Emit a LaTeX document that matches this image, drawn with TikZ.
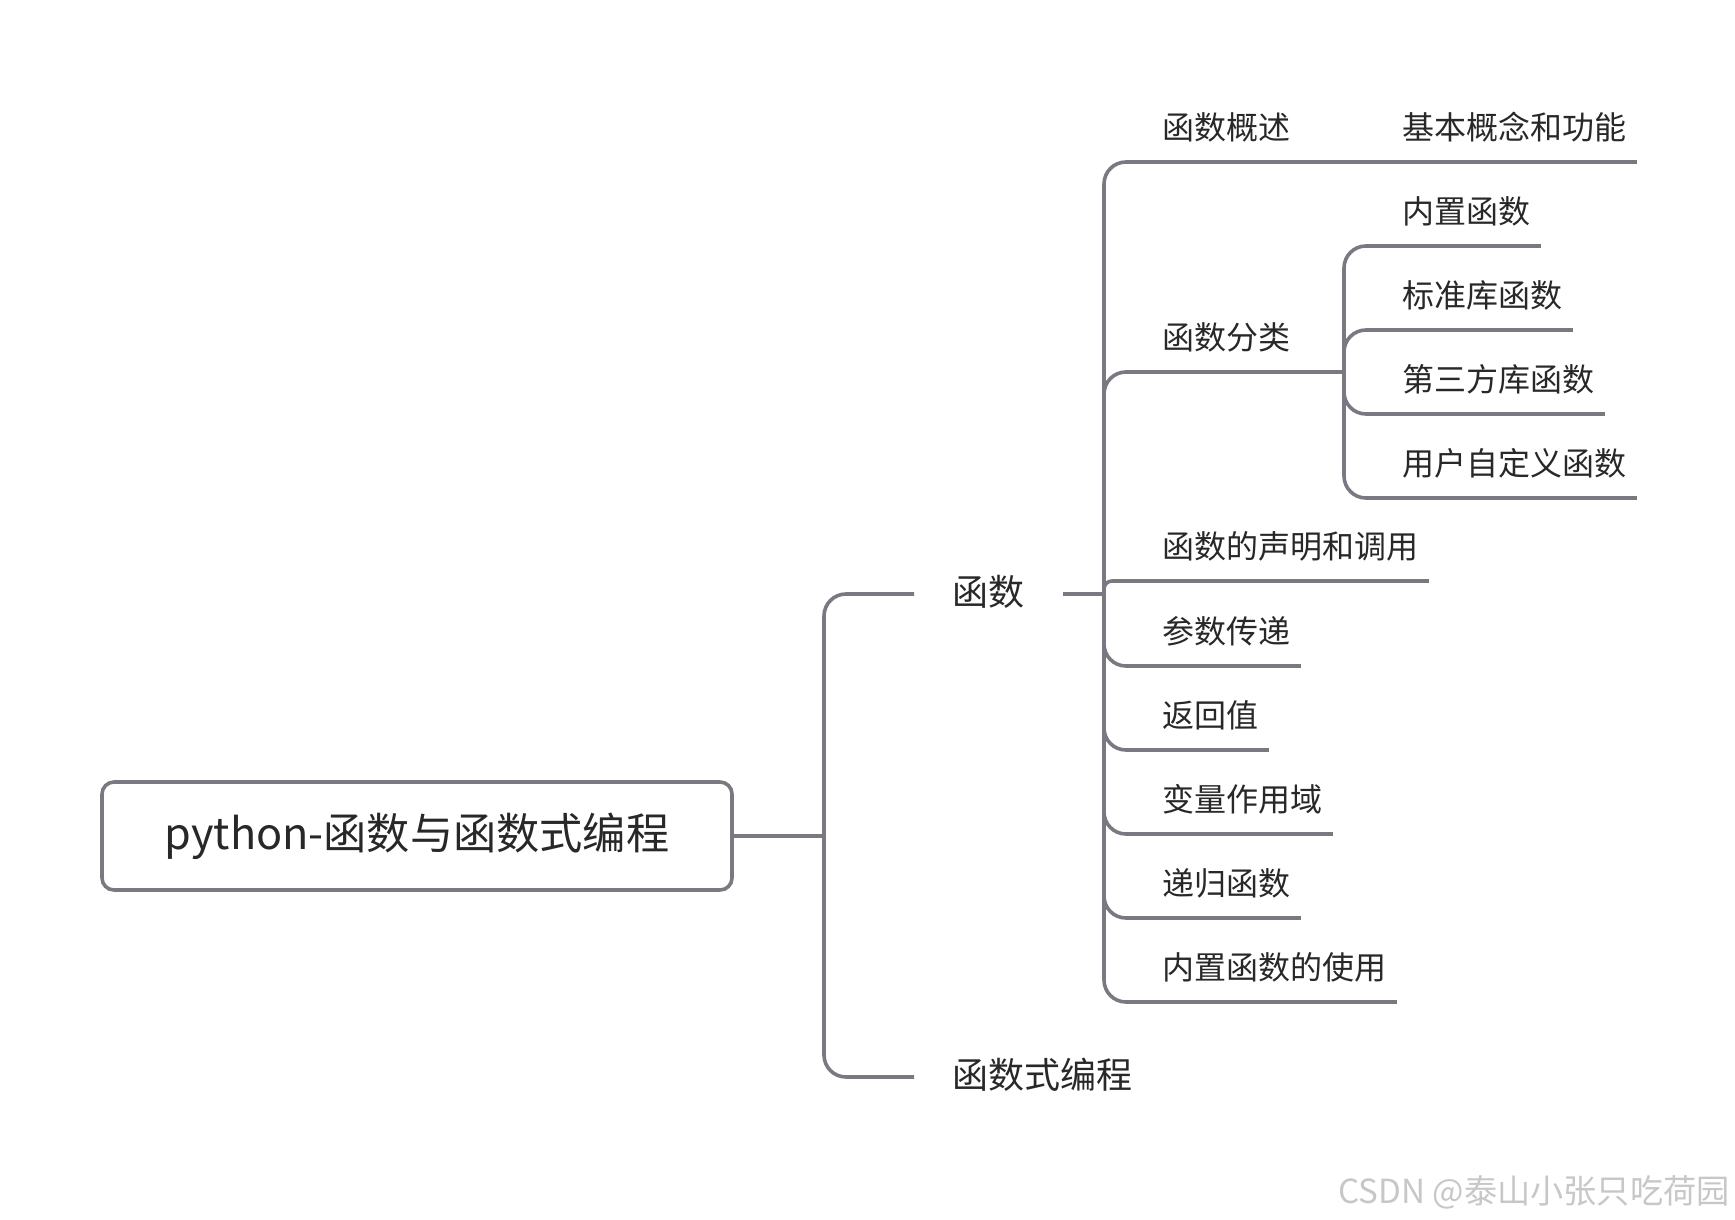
\documentclass[tikz,border=0pt]{standalone}
\usepackage{fontspec}
\setmainfont{Noto Sans CJK SC}
\usepackage{tikz}
\definecolor{linkgray}{RGB}{122,121,129}
\definecolor{inkgray}{RGB}{40,40,40}

\begin{document}
\begin{tikzpicture}[
  x=0.5pt, y=-0.5pt,
  link/.style={draw=linkgray, line width=1.8pt, rounded corners=11pt},
  rootbox/.style={draw=linkgray, line width=1.8pt, rounded corners=6pt, fill=white,
    minimum width=315pt, minimum height=54pt, font=\fontsize{21.6pt}{26pt}\selectfont, text=inkgray},
  topic/.style={inner xsep=19pt, inner ysep=4pt, text height=13pt, text depth=2pt,
    font=\fontsize{18pt}{21pt}\selectfont, text=inkgray},
  leaf/.style={anchor=south west, inner xsep=5pt, inner ysep=9pt, text height=12pt, text depth=2pt,
    font=\fontsize{16pt}{19pt}\selectfont, text=inkgray},
  watermark/.style={anchor=east, inner sep=0pt, font=\fontsize{16.6pt}{19pt}\selectfont, text=black!22}
]
\useasboundingbox (0,0) rectangle (1735,1220);

% root and first level
\node[rootbox] (root) at (417,836) {python-函数与函数式编程};
\node[topic, anchor=west] (fn) at (914,594) {函数};
\node[topic, anchor=west] (fp) at (914,1077) {函数式编程};

% second level
\node[leaf] (ovw) at (1152,162) {函数概述};
\node[leaf] (cls) at (1152,372) {函数分类};
\node[leaf] (decl) at (1152,581) {函数的声明和调用};
\node[leaf] (param) at (1152,666) {参数传递};
\node[leaf] (ret) at (1152,750) {返回值};
\node[leaf] (varscope) at (1152,834) {变量作用域};
\node[leaf] (recur) at (1152,918) {递归函数};
\node[leaf] (useb) at (1152,1002) {内置函数的使用};

% third level
\node[leaf] (basic) at (1392,162) {基本概念和功能};
\node[leaf] (builtin) at (1392,246) {内置函数};
\node[leaf] (stdlib) at (1392,330) {标准库函数};
\node[leaf] (thirdlib) at (1392,414) {第三方库函数};
\node[leaf] (userdef) at (1392,498) {用户自定义函数};

% connectors
\coordinate (rootJ) at (824,836);
\coordinate (fnJ) at (1104,594);
\coordinate (clsJ) at (1344,372);
\draw[link] (root.east) -- (rootJ);
\draw[link] (rootJ) |- (fn.west);
\draw[link] (rootJ) |- (fp.west);
\draw[link] (fn.east) -- (fnJ);
\draw[link] (fnJ) |- (ovw.south west) -- (basic.south east);
\draw[link] (fnJ) |- (cls.south west) -- (clsJ);
\draw[link, rounded corners=4pt] (fnJ) |- (decl.south west) -- (decl.south east);
\foreach \n in {param,ret,varscope,recur,useb}
  \draw[link] (fnJ) |- (\n.south west) -- (\n.south east);
\foreach \n in {builtin,stdlib,thirdlib,userdef}
  \draw[link] (clsJ) |- (\n.south west) -- (\n.south east);

\node[watermark] (wm) at (1730,1192) {CSDN @泰山小张只吃荷园};
\end{tikzpicture}
\end{document}
